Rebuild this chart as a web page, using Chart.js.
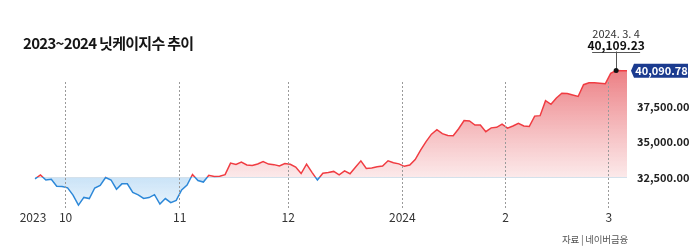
<!DOCTYPE html>
<html>
<head>
<meta charset="utf-8">
<script src="https://cdn.jsdelivr.net/npm/chart.js@4.4.1/dist/chart.umd.min.js"></script>
<style>
  body { margin: 0; background: #fff; }
  #wrap { position: relative; width: 700px; height: 250px; }
  #title { position: absolute; left: 23px; top: 32px; font: bold 15px "Noto Sans CJK KR", sans-serif; letter-spacing: -0.7px; color: #151515; }
  #source { position: absolute; right: 72px; top: 232px; font: 9.5px "Noto Sans CJK KR", sans-serif; letter-spacing: -0.2px; color: #555; }
</style>
</head>
<body>
<div id="wrap">
  <canvas id="chart" width="700" height="250"></canvas>
  <div id="title">2023~2024 닛케이지수 추이</div>
  <div id="source">자료 | 네이버금융</div>
</div>
<script>
// trading days, 2023-09-22 .. 2024-03-06
const DATES = [
  '2023-09-22', '2023-09-25', '2023-09-26', '2023-09-27', '2023-09-28', '2023-09-29',
  '2023-10-02', '2023-10-03', '2023-10-04', '2023-10-05', '2023-10-06', '2023-10-10', '2023-10-11',
  '2023-10-12', '2023-10-13', '2023-10-16', '2023-10-17', '2023-10-18', '2023-10-19', '2023-10-20',
  '2023-10-23', '2023-10-24', '2023-10-25', '2023-10-26', '2023-10-27', '2023-10-30', '2023-10-31',
  '2023-11-01', '2023-11-02', '2023-11-06', '2023-11-07', '2023-11-08', '2023-11-09', '2023-11-10',
  '2023-11-13', '2023-11-14', '2023-11-15', '2023-11-16', '2023-11-17', '2023-11-20', '2023-11-21',
  '2023-11-22', '2023-11-24', '2023-11-27', '2023-11-28', '2023-11-29', '2023-11-30',
  '2023-12-01', '2023-12-04', '2023-12-05', '2023-12-06', '2023-12-07', '2023-12-08', '2023-12-11',
  '2023-12-12', '2023-12-13', '2023-12-14', '2023-12-15', '2023-12-18', '2023-12-19', '2023-12-20',
  '2023-12-21', '2023-12-22', '2023-12-25', '2023-12-26', '2023-12-27', '2023-12-28', '2023-12-29',
  '2024-01-04', '2024-01-05', '2024-01-09', '2024-01-10', '2024-01-11', '2024-01-12', '2024-01-15',
  '2024-01-16', '2024-01-17', '2024-01-18', '2024-01-19', '2024-01-22', '2024-01-23', '2024-01-24',
  '2024-01-25', '2024-01-26', '2024-01-29', '2024-01-30', '2024-01-31',
  '2024-02-01', '2024-02-02', '2024-02-05', '2024-02-06', '2024-02-07', '2024-02-08', '2024-02-09',
  '2024-02-13', '2024-02-14', '2024-02-15', '2024-02-16', '2024-02-19', '2024-02-20', '2024-02-21',
  '2024-02-22', '2024-02-26', '2024-02-27', '2024-02-28', '2024-02-29',
  '2024-03-01', '2024-03-04', '2024-03-05', '2024-03-06'
];

const CLOSE = [
  32402, 32679, 32315, 32372, 31873, 31858,
  31760, 31238, 30527, 31075, 30995, 31747, 31937,
  32495, 32316, 31659, 32040, 32042, 31431, 31259,
  31000, 31062, 31270, 30602, 30992, 30697, 30859,
  31602, 31950, 32708, 32272, 32166, 32646, 32568,
  32585, 32696, 33520, 33424, 33585, 33388, 33354,
  33452, 33626, 33448, 33408, 33321, 33487,
  33432, 33231, 32776, 33446, 32858, 32308, 32792,
  32844, 32926, 32686, 32971, 32759, 33219, 33676,
  33140, 33169, 33254, 33306, 33681, 33540, 33464,
  33288, 33377, 33763, 34442, 35050, 35577, 35902,
  35619, 35478, 35466, 35963, 36547, 36518, 36226,
  36236, 35751, 36027, 36066, 36287,
  36011, 36158, 36354, 36161, 36120, 36863, 36897,
  37964, 37703, 38158, 38487, 38470, 38364, 38262,
  39099, 39234, 39240, 39208, 39166,
  39911, 40109.23, 40097.63, 40090.78
];

const BASE = 32500;
const Y_TICKS = [32500, 35000, 37500];
const X_TICK_DATES = ['2023-09-22', '2023-10-02', '2023-11-01', '2023-12-01', '2024-01-04', '2024-02-01', '2024-03-01'];
const X_TICK_LABELS = ['2023', '10', '11', '12', '2024', '2', '3'];
const MONTH_LINE_DATES = X_TICK_DATES.slice(1);

const RED = '#f03c42';
const BLUE = '#2d88d8';
const NAVY = '#1b3b8f';
const FONT = '"Noto Sans CJK KR", "Noto Sans", sans-serif';

function fmt(v) {
  return v.toLocaleString('en-US', { minimumFractionDigits: 2, maximumFractionDigits: 2 });
}

function splitGradient(chart, topColors, bottomColors) {
  const { ctx, chartArea, scales } = chart;
  if (!chartArea) return null;
  const h = chartArea.bottom - chartArea.top;
  const stop = Math.min(1, Math.max(0, (scales.y.getPixelForValue(BASE) - chartArea.top) / h));
  const g = ctx.createLinearGradient(0, chartArea.top, 0, chartArea.bottom);
  g.addColorStop(0, topColors[0]);
  g.addColorStop(stop, topColors[1]);
  g.addColorStop(stop, bottomColors[0]);
  g.addColorStop(1, bottomColors[1]);
  return g;
}

const monthLines = {
  id: 'monthLines',
  afterDatasetsDraw(chart) {
    const { ctx, chartArea, scales: { x } } = chart;
    ctx.save();
    ctx.strokeStyle = '#9a9a9a';
    ctx.lineWidth = 1;
    ctx.setLineDash([2, 2]);
    MONTH_LINE_DATES.forEach(d => {
      const i = DATES.indexOf(d);
      const px = Math.round((x.getPixelForValue(i - 1) + x.getPixelForValue(i)) / 2) + 0.5;
      ctx.beginPath();
      ctx.moveTo(px, chartArea.top + 24);
      ctx.lineTo(px, chartArea.bottom);
      ctx.stroke();
    });
    ctx.restore();
  }
};

const marks = {
  id: 'marks',
  afterDraw(chart) {
    const { ctx, chartArea, scales: { x, y } } = chart;
    ctx.save();

    // peak annotation
    const maxIdx = CLOSE.indexOf(Math.max(...CLOSE));
    const mx = x.getPixelForValue(maxIdx);
    const my = y.getPixelForValue(CLOSE[maxIdx]);
    const uy = my - 19;
    ctx.strokeStyle = '#555';
    ctx.lineWidth = 1;
    ctx.beginPath();
    ctx.moveTo(Math.round(mx) + 0.5, uy);
    ctx.lineTo(Math.round(mx) + 0.5, my);
    ctx.moveTo(mx - 24, Math.round(uy) + 0.5);
    ctx.lineTo(mx + 24, Math.round(uy) + 0.5);
    ctx.stroke();
    ctx.fillStyle = '#111';
    ctx.beginPath();
    ctx.arc(mx, my, 2.5, 0, Math.PI * 2);
    ctx.fill();
    const [yy, mm, dd] = DATES[maxIdx].split('-').map(Number);
    ctx.textAlign = 'center';
    ctx.textBaseline = 'middle';
    ctx.fillStyle = '#333';
    ctx.font = '11px ' + FONT;
    ctx.fillText(`${yy}. ${mm}. ${dd}`, mx, uy - 18);
    ctx.fillStyle = '#111';
    ctx.font = 'bold 12px ' + FONT;
    ctx.fillText(fmt(CLOSE[maxIdx]), mx, uy - 6);

    // last value badge
    const last = CLOSE[CLOSE.length - 1];
    const ly = y.getPixelForValue(last);
    const tip = chartArea.right + 4;
    const left = tip + 3;
    const right = left + 54;
    ctx.fillStyle = NAVY;
    ctx.beginPath();
    ctx.moveTo(tip, ly);
    ctx.lineTo(left, ly - 7);
    ctx.lineTo(right, ly - 7);
    ctx.lineTo(right, ly + 7);
    ctx.lineTo(left, ly + 7);
    ctx.closePath();
    ctx.fill();
    ctx.fillStyle = '#fff';
    ctx.font = 'bold 11px ' + FONT;
    ctx.fillText(fmt(last), (left + right) / 2 + 0.5, ly + 0.5);
    ctx.restore();
  }
};

new Chart(document.getElementById('chart'), {
  type: 'line',
  data: {
    labels: DATES,
    datasets: [{
      data: CLOSE,
      borderWidth: 1.5,
      pointRadius: 0,
      tension: 0,
      borderColor: c => splitGradient(c.chart, [RED, RED], [BLUE, BLUE]),
      backgroundColor: c => splitGradient(c.chart, ['rgba(232,98,104,0.9)', 'rgba(251,228,229,0.8)'], ['rgba(196,224,246,0.9)', 'rgba(228,241,252,0.8)']),
      fill: { target: { value: BASE } }
    }]
  },
  options: {
    responsive: false,
    animation: false,
    layout: { padding: { left: 35, top: 58, right: 0, bottom: 24.6 } },
    plugins: { legend: { display: false }, tooltip: { enabled: false } },
    scales: {
      x: {
        offset: false,
        border: { display: false },
        grid: { display: false, drawTicks: false },
        ticks: {
          autoSkip: false,
          maxRotation: 0,
          padding: 1,
          labelOffset: -2,
          color: '#333',
          font: { family: FONT, size: 12 },
          callback: (v, i) => {
            const k = X_TICK_DATES.indexOf(DATES[i]);
            return k >= 0 ? X_TICK_LABELS[k] : '';
          }
        }
      },
      y: {
        position: 'right',
        min: 30250,
        max: 41000,
        border: { display: false },
        afterBuildTicks: s => { s.ticks = Y_TICKS.map(v => ({ value: v })); },
        afterFit: s => { s.width = 73; },
        grid: {
          drawTicks: false,
          color: c => (c.tick && c.tick.value === BASE ? '#e2e2e2' : 'transparent')
        },
        ticks: {
          padding: 10,
          color: '#222',
          font: { family: FONT, size: 11, weight: 'bold' },
          callback: v => fmt(v)
        }
      }
    }
  },
  plugins: [monthLines, marks]
});
</script>
</body>
</html>
